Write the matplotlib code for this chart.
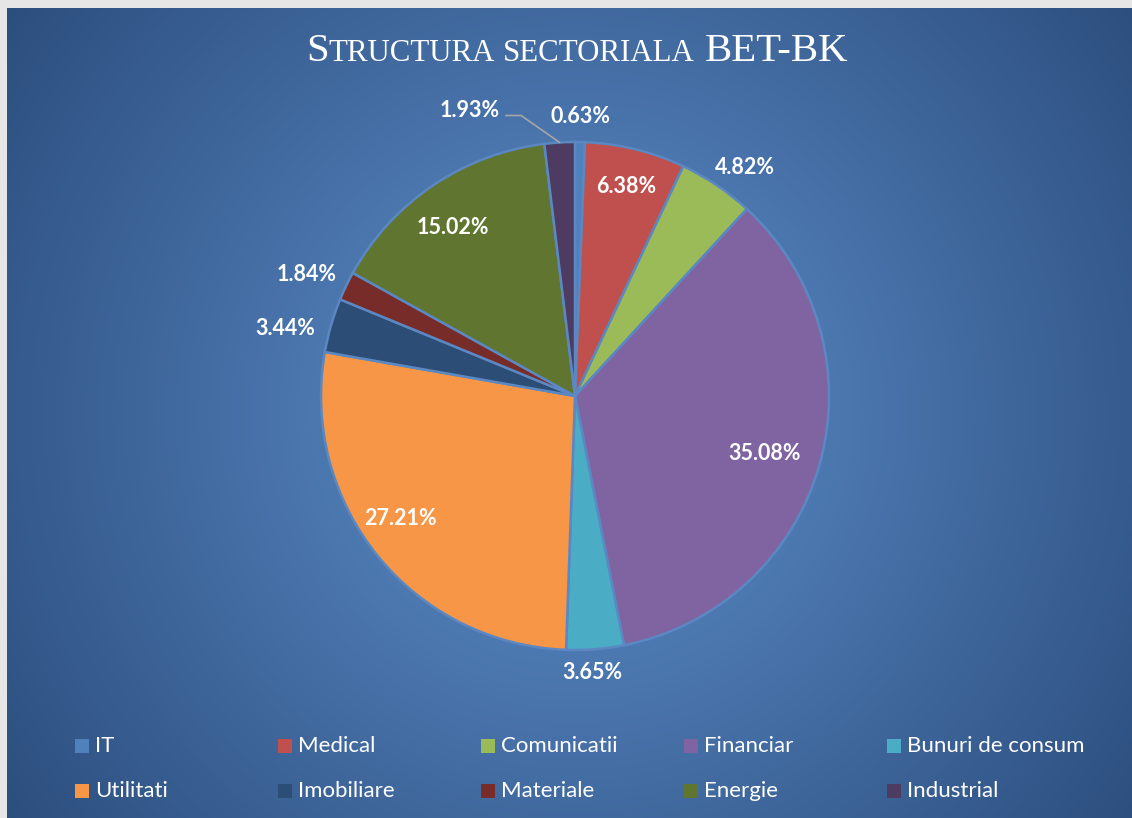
import numpy as np
import matplotlib
matplotlib.use('Agg')
from matplotlib import pyplot as plt
from matplotlib.colors import LinearSegmentedColormap
from matplotlib.patches import Rectangle

sectors = ['IT', 'Medical', 'Comunicatii', 'Financiar', 'Bunuri de consum',
           'Utilitati', 'Imobiliare', 'Materiale', 'Energie', 'Industrial']
weights = [0.63, 6.38, 4.82, 35.08, 3.65, 27.21, 3.44, 1.84, 15.02, 1.93]
colors = ['#4F81BD', '#C0504D', '#9BBB59', '#8064A2', '#4BACC6',
          '#F79646', '#2C4D75', '#772C2A', '#5F7530', '#4D3B62']
# label distance from centre (pie radius = 1) and angle nudge in degrees
label_r = [1.10, 0.85, 1.12, 0.78, 1.09, 0.84, 1.17, 1.16, 0.82, None]
label_da = [0, 0, -2.8, -1, -0.9, -4, 3, 1.3, 2, 0]

W, H = 1132, 818
fig = plt.figure(figsize=(W / 100, H / 100), dpi=100)
fig.patch.set_facecolor('#E6E6E6')

# background with radial gradient
bg = fig.add_axes([7 / W, 0, 1 - 7 / W, 1 - 8 / H])
bg.axis('off')
yy, xx = np.mgrid[0:H - 8, 0:W - 7]
t = np.sqrt(((xx - 568) / 560.0) ** 2 + ((yy - 405) / 560.0) ** 2) / 1.25
cmap = LinearSegmentedColormap.from_list('bgr', ['#5E8FCC', '#2C4E7E'])
bg.imshow(t, cmap=cmap, vmin=0, vmax=1, aspect='auto', interpolation='bilinear')

# pie axes: centre at (575, 396) px, radius 254 px
R = 254
cx, cy = 575, H - 396
ax = fig.add_axes([(cx - 1.5 * R) / W, (cy - 1.5 * R) / H, 3 * R / W, 3 * R / H])

wedges, _ = ax.pie(weights, colors=colors, startangle=90, counterclock=False,
                   radius=1.0, wedgeprops=dict(edgecolor='#5B88C2', linewidth=1.8))
ax.set_xlim(-1.5, 1.5)
ax.set_ylim(-1.5, 1.5)
ax.axis('off')

lab_font = dict(family=['Lato', 'DejaVu Sans'], fontsize=15.5, fontweight='bold', color='white')
for w, v, r, da in zip(wedges, weights, label_r, label_da):
    ang = np.deg2rad((w.theta1 + w.theta2) / 2 + da)
    txt = f'{v:.2f}%'
    if r is None:
        edge = (np.cos(ang), np.sin(ang))
        ax.annotate(txt, xy=edge, xytext=(-0.413, 1.125), ha='center', va='center',
                    arrowprops=dict(arrowstyle='-', color='#A6A6A6', lw=1.2,
                                    connectionstyle='angle,angleA=0,angleB=145',
                                    relpos=(1.0, 0.25), shrinkA=2, shrinkB=0),
                    **lab_font)
    else:
        ax.text(r * np.cos(ang), r * np.sin(ang), txt, ha='center', va='center', **lab_font)

# title in small caps
renderer = fig.canvas.get_renderer()
big, small = 29.3, 22.2
pieces = [('S', big), ('TRUCTURA', small), (' ', small), ('SECTORIALA', small),
          (' ', big), ('BET-BK', big)]
title_font = ['Liberation Serif', 'DejaVu Serif']
ty = 1 - 61 / H
arts = []
for s, sz in pieces:
    a = fig.text(0, ty, s, fontsize=sz, family=title_font, color='white', va='baseline')
    arts.append(a)
widths = []
for a in arts:
    s = a.get_text()
    if s.strip() == '':
        a.set_text('I')
        widths.append(a.get_window_extent(renderer).width * 0.75)
        a.set_text('')
    else:
        widths.append(a.get_window_extent(renderer).width)
x = 577 - sum(widths) / 2
for a, wd in zip(arts, widths):
    a.set_x(x / W)
    x += wd

# legend, row-major 5 columns
col_x = [75, 278, 481, 684, 887]
row_y = [746, 791]
for i, (name, c) in enumerate(zip(sectors, colors)):
    px = col_x[i % 5]
    py = row_y[i // 5]
    fig.patches.append(Rectangle((px / W, (H - py - 7) / H), 14 / W, 14 / H,
                                 transform=fig.transFigure, facecolor=c, edgecolor='none'))
    fig.text((px + 20) / W, (H - py) / H, name, ha='left', va='center', color='white',
             fontsize=16, family=['Lato', 'DejaVu Sans'])

fig.savefig('out.png', dpi=100, facecolor=fig.get_facecolor())
